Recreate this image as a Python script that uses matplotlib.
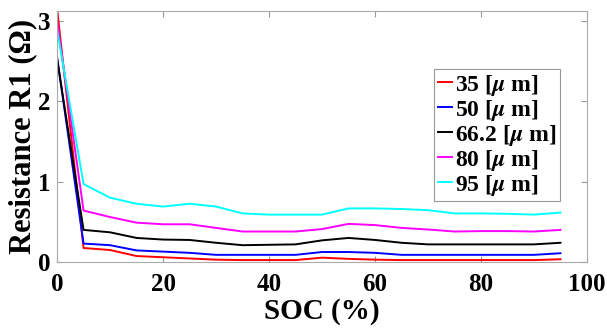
import matplotlib
matplotlib.use('Agg')
from matplotlib import pyplot as plt

plt.rcParams['font.family'] = ['Liberation Serif', 'DejaVu Serif']
plt.rcParams['font.weight'] = 'bold'
plt.rcParams['mathtext.fontset'] = 'stix'

# SOC points
soc = [0, 5, 10, 15, 20, 25, 30, 35, 40, 45, 50, 55, 60, 65, 70, 75, 80, 85, 90, 95]

# R1 for each thickness
r_35 = [3.15, 0.175, 0.15, 0.075, 0.06, 0.045, 0.03, 0.025, 0.025, 0.025,
        0.055, 0.04, 0.03, 0.025, 0.025, 0.025, 0.025, 0.025, 0.025, 0.035]
r_50 = [2.55, 0.23, 0.21, 0.145, 0.13, 0.115, 0.09, 0.09, 0.09, 0.09,
        0.125, 0.125, 0.115, 0.09, 0.09, 0.09, 0.09, 0.09, 0.09, 0.11]
r_66 = [2.53, 0.40, 0.37, 0.30, 0.28, 0.275, 0.24, 0.21, 0.215, 0.22,
        0.27, 0.30, 0.275, 0.24, 0.22, 0.22, 0.22, 0.22, 0.22, 0.24]
r_80 = [3.0, 0.64, 0.56, 0.49, 0.47, 0.47, 0.425, 0.38, 0.38, 0.38,
        0.41, 0.475, 0.46, 0.425, 0.405, 0.38, 0.385, 0.385, 0.38, 0.40]
r_95 = [2.89, 0.97, 0.80, 0.725, 0.69, 0.725, 0.69, 0.605, 0.59, 0.59,
        0.59, 0.667, 0.667, 0.66, 0.645, 0.605, 0.605, 0.60, 0.59, 0.615]

labels = [r'35 [$\mu$ m]', r'50 [$\mu$ m]', r'66.2 [$\mu$ m]', r'80 [$\mu$ m]', r'95 [$\mu$ m]']
colors = ['red', 'blue', 'black', 'magenta', 'cyan']

fig = plt.figure(figsize=(6.07, 3.36), dpi=100)
ax = fig.add_axes([0.094, 0.22, 0.873, 0.747])

for vals, lab, c in zip([r_35, r_50, r_66, r_80, r_95], labels, colors):
    ax.plot(soc, vals, color=c, linewidth=1.4, label=lab)

ax.set_xlim(0, 100)
ax.set_ylim(0, 3.12)
ax.set_xticks([0, 20, 40, 60, 80, 100])
ax.set_yticks([0, 1, 2, 3])
ax.tick_params(direction='in', length=4, color='#999999', labelsize=18,
               top=True, right=True)
ax.tick_params(axis='x', pad=8)
ax.tick_params(axis='y', pad=5)
for lbl in ax.get_xticklabels() + ax.get_yticklabels():
    lbl.set_fontweight('bold')
for s in ax.spines.values():
    s.set_color('#aaaaaa')

ax.set_xlabel('SOC (%)', fontsize=21, fontweight='bold', labelpad=1)
ax.set_ylabel('Resistance R1 (Ω)', fontsize=22, fontweight='bold', labelpad=0)

leg = ax.legend(loc='upper right', bbox_to_anchor=(0.949, 0.769), borderaxespad=0,
                handlelength=0.6, handletextpad=0.15, borderpad=0.15,
                labelspacing=0.0, fancybox=False, framealpha=1,
                prop={'weight': 'bold', 'size': 17})
leg.get_frame().set_edgecolor('#999999')
leg.get_frame().set_linewidth(0.8)

fig.savefig('out.png', dpi=100)
